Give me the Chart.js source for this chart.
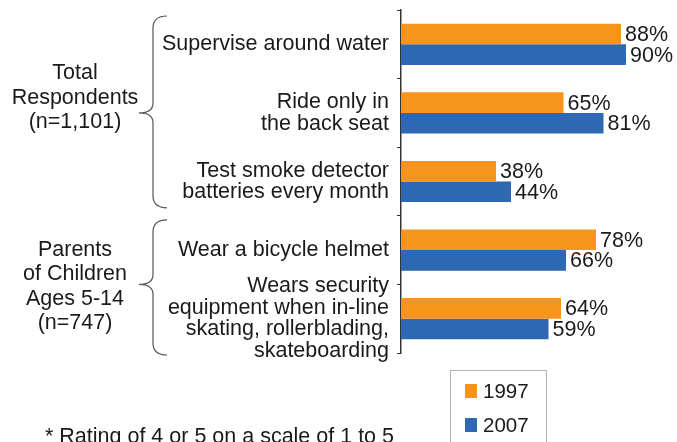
<!DOCTYPE html>
<html>
<head>
<meta charset="utf-8">
<script src="https://cdn.jsdelivr.net/npm/chart.js@4"></script>
<style>
    body { margin: 0; background: #fff; }
    canvas { display: block; }
</style>
</head>
<body>
<canvas id="chart" width="677" height="442"></canvas>
<script>
let categories = [
    'Supervise around water',
    ['Ride only in', 'the back seat'],
    ['Test smoke detector', 'batteries every month'],
    'Wear a bicycle helmet',
    ['Wears security', 'equipment when in-line', 'skating, rollerblading,', 'skateboarding']
];
let years = ['1997', '2007'];
let values1997 = [88, 65, 38, 78, 64];
let values2007 = [90, 81, 44, 66, 59];
let groupLabels = [
    ['Total', 'Respondents', '(n=1,101)'],
    ['Parents', 'of Children', 'Ages 5-14', '(n=747)']
];
let footnote = '* Rating of 4 or 5 on a scale of 1 to 5';

let FONT = '"Liberation Sans", Arial, Helvetica, sans-serif';
let TEXT = '#1a1a1a';
let ORANGE = '#F7941E';
let BLUE = '#2E67B2';

function drawBrace(ctx, x, top, tip, bottom) {
    // curly brace opening to the right, point on the left
    let xl = x - 14;
    ctx.beginPath();
    ctx.moveTo(x + 14, top);
    ctx.quadraticCurveTo(x, top, x, top + 12);
    ctx.lineTo(x, tip - 10);
    ctx.quadraticCurveTo(x, tip, xl, tip);
    ctx.quadraticCurveTo(x, tip, x, tip + 10);
    ctx.lineTo(x, bottom - 12);
    ctx.quadraticCurveTo(x, bottom, x + 14, bottom);
    ctx.stroke();
}

let extras = {
    id: 'extras',
    afterDatasetsDraw(chart) {
        let ctx = chart.ctx;
        ctx.save();
        ctx.font = '21.5px ' + FONT;
        ctx.fillStyle = TEXT;
        ctx.textBaseline = 'middle';
        ctx.textAlign = 'left';
        chart.data.datasets.forEach(function(ds, i) {
            let meta = chart.getDatasetMeta(i);
            meta.data.forEach(function(bar, j) {
                ctx.fillText(ds.data[j] + '%', bar.x + 4, bar.y + 1);
            });
        });

        // group labels on the left
        ctx.textAlign = 'center';
        let y = chart.scales.y;
        let groups = [
            { lines: groupLabels[0], from: 0, to: 2, textShift: -15, braceTop: 6, braceBottom: -8 },
            { lines: groupLabels[1], from: 3, to: 4, textShift: 2, braceTop: 4, braceBottom: 2 }
        ];
        let step = y.getPixelForValue(1) - y.getPixelForValue(0);
        groups.forEach(function(g) {
            let top = y.getPixelForValue(g.from) - step / 2;
            let bottom = y.getPixelForValue(g.to) + step / 2;
            let mid = (top + bottom) / 2;
            let lh = 24.5;
            let start = mid + g.textShift - (g.lines.length - 1) * lh / 2;
            g.lines.forEach(function(line, k) {
                ctx.fillText(line, 75, start + k * lh);
            });
            ctx.strokeStyle = '#555';
            ctx.lineWidth = 1.2;
            drawBrace(ctx, 153, top + g.braceTop, mid, bottom + g.braceBottom);
        });

        // legend box
        ctx.strokeStyle = '#b4b4b4';
        ctx.lineWidth = 1;
        ctx.strokeRect(450.5, 370.5, 96, 80);
        ctx.textAlign = 'left';
        ctx.font = '20.5px ' + FONT;
        chart.data.datasets.forEach(function(ds, i) {
            let ly = 391 + i * 34;
            ctx.fillStyle = ds.backgroundColor;
            ctx.fillRect(465, ly - 7, 12, 14);
            ctx.fillStyle = TEXT;
            ctx.fillText(ds.label, 483, ly + 1);
        });

        // footnote
        ctx.font = '21.5px ' + FONT;
        ctx.textBaseline = 'alphabetic';
        ctx.fillText(footnote, 45, 443);
        ctx.restore();
    }
};

new Chart(document.getElementById('chart').getContext('2d'), {
    type: 'bar',
    data: {
        labels: categories,
        datasets: [
            { label: years[0], data: values1997, backgroundColor: ORANGE },
            { label: years[1], data: values2007, backgroundColor: BLUE }
        ]
    },
    options: {
        indexAxis: 'y',
        responsive: false,
        animation: false,
        devicePixelRatio: 1,
        categoryPercentage: 0.6,
        barPercentage: 1.0,
        layout: { padding: { top: 10, bottom: 89, left: 0, right: 26 } },
        scales: {
            x: { display: false, min: 0, max: 100 },
            y: {
                afterFit: function(scale) {
                    scale.width = 401;
                    scale.paddingTop = 0;
                    scale.paddingBottom = 0;
                },
                grid: { drawOnChartArea: false, tickLength: 4, color: '#333', offset: true },
                border: { display: true, color: '#333', width: 1.5 },
                ticks: {
                    autoSkip: false,
                    color: TEXT,
                    padding: 8,
                    font: { family: FONT, size: 21.5, lineHeight: 1.0 }
                }
            }
        },
        plugins: {
            legend: { display: false },
            tooltip: { enabled: false }
        }
    },
    plugins: [extras]
});
</script>
</body>
</html>
